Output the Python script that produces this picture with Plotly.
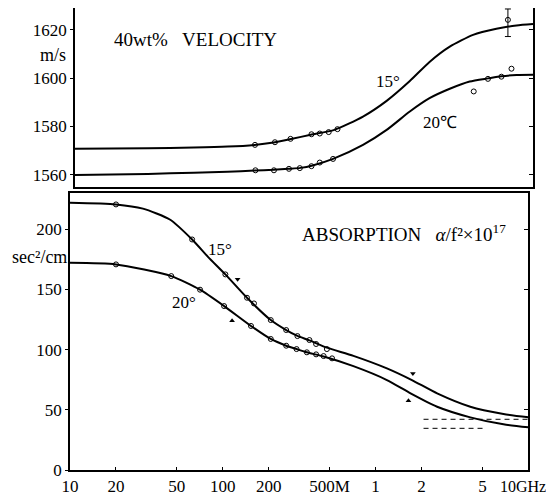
import plotly.graph_objects as go

# ---------------- data: VELOCITY (top panel) ----------------
vel15_curve_f = [10, 30, 60, 100, 150, 200, 260, 350, 500, 770, 1100, 1560, 2100, 2850, 4050, 5760, 7800, 10000]
vel15_curve_v = [1570.8, 1571.0, 1571.3, 1571.7, 1572.4, 1573.4, 1574.8, 1576.6, 1578.6, 1584.1, 1590.6,
                 1598.8, 1606.7, 1613.0, 1617.9, 1620.4, 1621.8, 1622.4]
vel20_curve_f = [10, 30, 60, 100, 150, 200, 250, 300, 360, 490, 770, 1100, 1560, 2100, 2850, 3850, 5070, 6200, 7800, 10000]
vel20_curve_v = [1560.0, 1560.4, 1560.9, 1561.3, 1561.8, 1562.1, 1562.5, 1562.9, 1563.9, 1566.6, 1572.4,
                 1578.6, 1586.2, 1591.7, 1595.6, 1598.6, 1599.9, 1600.8, 1601.3, 1601.4]

vel15_pts_f = [151, 204, 258, 354, 401, 459, 524]
vel15_pts_v = [1572.4, 1573.5, 1574.9, 1576.8, 1577.1, 1577.7, 1578.9]
vel15_err_f = [6850]
vel15_err_v = [1624.1]
vel15_err_plus = [4.5]
vel15_err_minus = [6.9]

vel20_pts_f = [152, 201, 252, 297, 354, 401, 490, 4090, 5070, 6210, 7230]
vel20_pts_v = [1561.9, 1561.9, 1562.5, 1562.8, 1563.6, 1565.1, 1566.6, 1594.5, 1599.7, 1600.6, 1603.9]

# ---------------- data: ABSORPTION (bottom panel) ----------------
abs15_curve_f = [10, 20, 30, 45, 63, 80, 104, 144, 206, 260, 308, 369, 480, 716, 1186, 1729, 2528, 4169, 6870, 10000]
abs15_curve_v = [221.8, 220.5, 217.0, 208.0, 191.4, 177.0, 162.4, 143.0, 124.5, 116.2, 111.4, 107.6,
                 101.6, 94.8, 84.4, 74.7, 63.6, 52.5, 46.5, 43.7]
abs20_curve_f = [10, 20, 46, 71, 102, 153, 206, 260, 304, 355, 457, 716, 1186, 1694, 2528, 4169, 6870, 10000]
abs20_curve_v = [172.0, 170.7, 161.0, 149.7, 136.1, 119.6, 108.8, 103.2, 100.4, 97.7, 94.2, 86.2,
                 74.7, 63.6, 52.5, 43.7, 37.9, 35.4]

abs15_pts_f = [20, 63, 104, 144, 160, 206, 260, 308, 369, 408, 480]
abs15_pts_v = [220.5, 191.4, 162.4, 143.0, 138.3, 124.5, 116.2, 111.2, 107.9, 104.6, 100.4]
abs20_pts_f = [20, 46, 71, 102, 153, 206, 260, 304, 355, 408, 457, 519]
abs20_pts_v = [170.7, 161.0, 149.7, 136.1, 119.6, 108.8, 103.2, 100.4, 97.7, 96.0, 94.6, 92.7]

arrow_down_f = [125, 1754]
arrow_down_v = [158.3, 80.2]
arrow_up_f = [115, 1641]
arrow_up_v = [123.9, 57.5]

dash15_f = [2060, 10000]
dash15_v = [42.1, 42.1]
dash20_f = [2060, 5090]
dash20_v = [34.6, 34.6]

# ---------------- ticks ----------------
vel_ticks = [1560, 1580, 1600, 1620]
abs_ticks = [0, 50, 100, 150, 200]
freq_tickvals = [10, 20, 50, 100, 200, 500, 1000, 2000, 5000, 10000]
freq_ticktext = ["10", "20", "50", "100", "200", "500M", "1", "2", "5", ""]
last_tick_text = "10GHz"

FONT = "'Liberation Serif', serif"
BLACK = "black"

fig = go.Figure()

line_style = dict(color=BLACK, width=2, shape="spline", smoothing=0.6)
pt_style = dict(symbol="circle-open", size=5, color=BLACK, line=dict(width=1, color=BLACK))

# top panel
fig.add_trace(go.Scatter(x=vel15_curve_f, y=vel15_curve_v, mode="lines", line=line_style, xaxis="x", yaxis="y"))
fig.add_trace(go.Scatter(x=vel20_curve_f, y=vel20_curve_v, mode="lines", line=line_style, xaxis="x", yaxis="y"))
fig.add_trace(go.Scatter(x=vel15_pts_f, y=vel15_pts_v, mode="markers", marker=pt_style, xaxis="x", yaxis="y"))
fig.add_trace(go.Scatter(x=vel20_pts_f, y=vel20_pts_v, mode="markers", marker=pt_style, xaxis="x", yaxis="y"))
fig.add_trace(go.Scatter(x=vel15_err_f, y=vel15_err_v, mode="markers", marker=pt_style,
                         error_y=dict(type="data", array=vel15_err_plus, arrayminus=vel15_err_minus,
                                      color=BLACK, thickness=1, width=3),
                         xaxis="x", yaxis="y"))

# bottom panel
fig.add_trace(go.Scatter(x=abs15_curve_f, y=abs15_curve_v, mode="lines", line=line_style, xaxis="x2", yaxis="y2"))
fig.add_trace(go.Scatter(x=abs20_curve_f, y=abs20_curve_v, mode="lines", line=line_style, xaxis="x2", yaxis="y2"))
fig.add_trace(go.Scatter(x=abs15_pts_f, y=abs15_pts_v, mode="markers", marker=pt_style, xaxis="x2", yaxis="y2"))
fig.add_trace(go.Scatter(x=abs20_pts_f, y=abs20_pts_v, mode="markers", marker=pt_style, xaxis="x2", yaxis="y2"))
fig.add_trace(go.Scatter(x=dash15_f, y=dash15_v, mode="lines", line=dict(color=BLACK, width=1, dash="5px,4px"),
                         xaxis="x2", yaxis="y2"))
fig.add_trace(go.Scatter(x=dash20_f, y=dash20_v, mode="lines", line=dict(color=BLACK, width=1, dash="5px,4px"),
                         xaxis="x2", yaxis="y2"))
fig.add_trace(go.Scatter(x=arrow_down_f, y=arrow_down_v, mode="markers",
                         marker=dict(symbol="triangle-down", size=5, color=BLACK), xaxis="x2", yaxis="y2"))
fig.add_trace(go.Scatter(x=arrow_up_f, y=arrow_up_v, mode="markers",
                         marker=dict(symbol="triangle-up", size=5, color=BLACK), xaxis="x2", yaxis="y2"))

# empty traces so the right-hand (inside tick) axes are drawn
fig.add_trace(go.Scatter(x=[], y=[], xaxis="x", yaxis="y3"))
fig.add_trace(go.Scatter(x=[], y=[], xaxis="x2", yaxis="y4"))

axis_common = dict(showline=True, linecolor=BLACK, linewidth=1.5, mirror=True, showgrid=False, zeroline=False,
                   automargin=False, tickfont=dict(family=FONT, size=17, color=BLACK), tickcolor=BLACK)
right_common = dict(side="right", ticks="inside", ticklen=4, tickcolor=BLACK, showticklabels=False,
                    showline=False, showgrid=False, zeroline=False, automargin=False)

# the page body adds an 8px offset, so the figure is 8px smaller and margins compensate
fig.update_layout(
    template="none",
    width=546, height=489,
    margin=dict(l=62, r=21, t=0, b=27, autoexpand=False),
    paper_bgcolor="white", plot_bgcolor="white",
    showlegend=False,
    font=dict(family=FONT, color=BLACK, size=17),
    xaxis=dict(type="log", range=[1, 4], domain=[0.0108, 1.0], showticklabels=False, ticks="", anchor="y",
               **axis_common),
    yaxis=dict(range=[1555, 1629], domain=[0.6126, 1.0], tickvals=vel_ticks, ticks="outside", ticklen=3,
               anchor="x", **axis_common),
    yaxis3=dict(range=[1555, 1629], overlaying="y", anchor="x", tickvals=vel_ticks, **right_common),
    xaxis2=dict(type="log", range=[1, 4], domain=[0.0, 0.99], tickvals=freq_tickvals, ticktext=freq_ticktext,
                ticks="inside", ticklen=3, anchor="y2", **axis_common),
    yaxis2=dict(range=[0, 230], domain=[0.0, 0.5996], tickvals=abs_ticks, ticks="outside", ticklen=3,
                anchor="x2", **axis_common),
    yaxis4=dict(range=[0, 230], overlaying="y2", anchor="x2", tickvals=abs_ticks[1:], **right_common),
)

def ann(text, x, y, xanchor="center", size=17):
    fig.add_annotation(text=text, x=x, y=y, xref="paper", yref="paper", xanchor=xanchor, yanchor="middle",
                       showarrow=False, font=dict(family=FONT, size=size, color=BLACK))

ann("40wt%&nbsp;&nbsp;&nbsp;VELOCITY", 0.0907, 0.931, xanchor="left", size=19)
ann("m/s", -0.0367, 0.898, size=18)
ann("15°", 0.687, 0.840)
ann("20℃", 0.799, 0.753)
ann("sec²/cm", -0.0648, 0.4617, size=18)
ann("ABSORPTION&nbsp;&nbsp;&nbsp;<i>α</i>/f²×10<sup>17</sup>", 0.4968, 0.513, xanchor="left", size=19)
ann("15°", 0.324, 0.4777)
ann("20°", 0.247, 0.362)

# last x tick label, right-aligned so that it stays inside the picture
fig.add_annotation(text=last_tick_text, x=4, xref="x2", y=-0.035, yref="paper", xanchor="right",
                   yanchor="middle", xshift=20, showarrow=False, font=dict(family=FONT, size=16, color=BLACK))

fig.write_html("out.html")
